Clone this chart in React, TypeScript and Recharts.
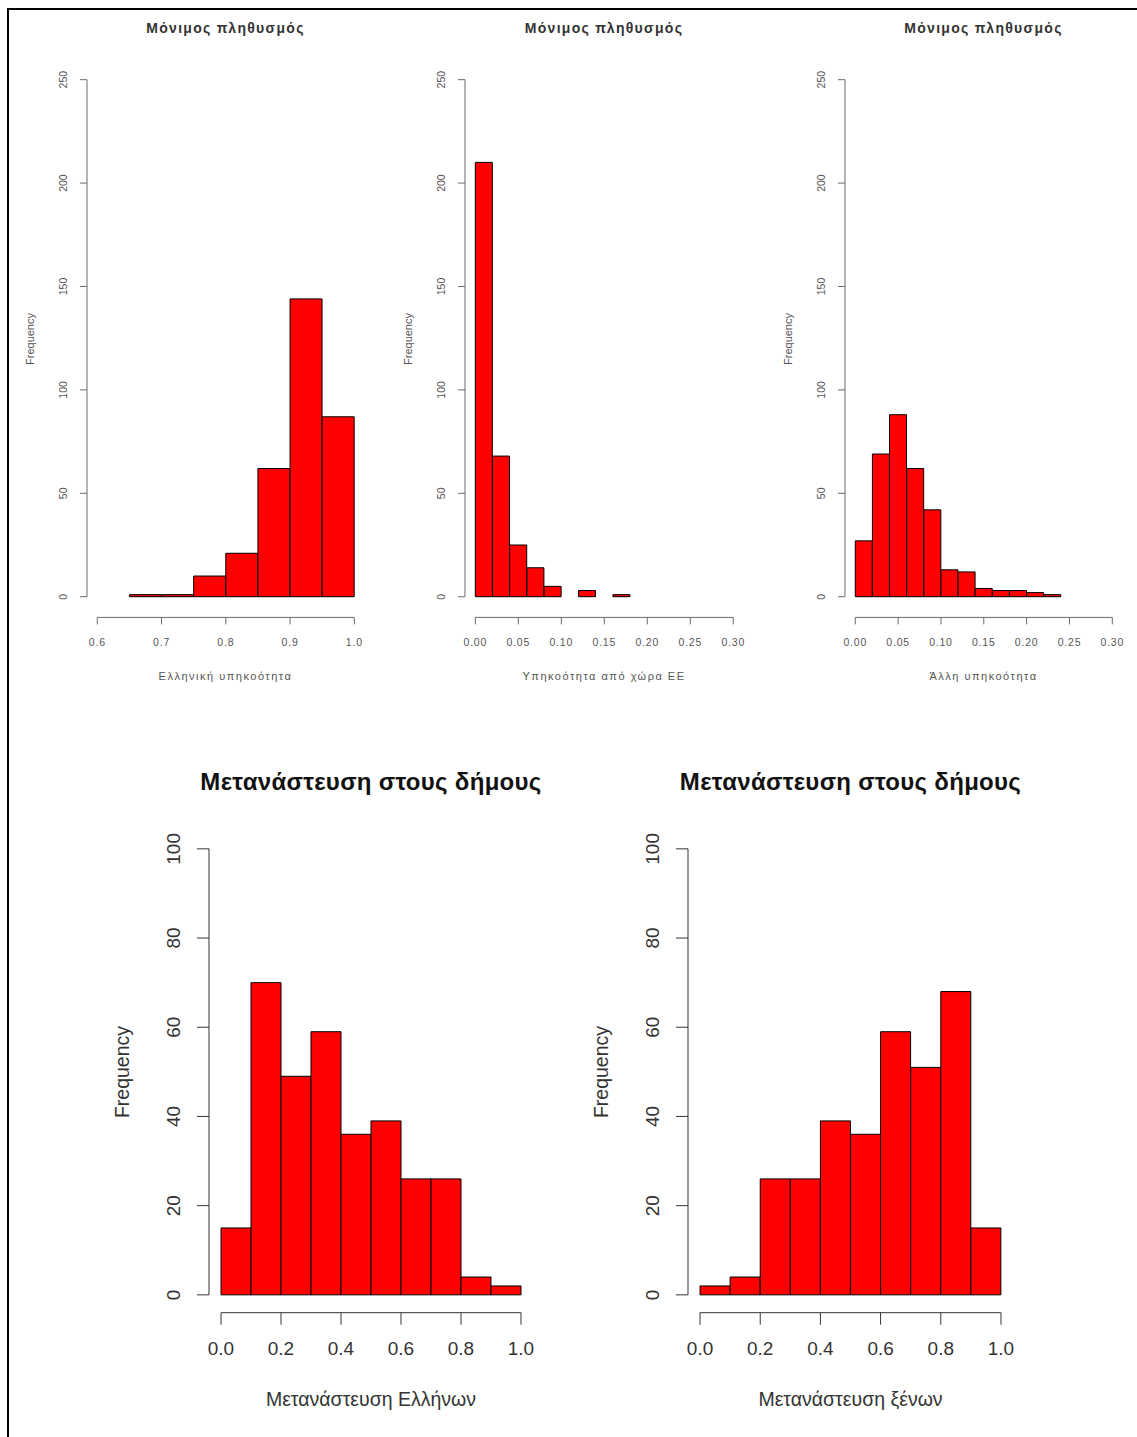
import { BarChart, Bar, XAxis, YAxis, ReferenceLine } from 'recharts';

const TOP_TITLE = "Μόνιμος πληθυσμός";
const BOTTOM_TITLE = "Μετανάστευση στους δήμους";

// Ελληνική υπηκοότητα
const greekTicks = [0.6, 0.7, 0.8, 0.9, 1.0];
const greekBinStart = 0.65;
const greekBinWidth = 0.05;
const greekCounts = [1, 1, 10, 21, 62, 144, 87];

// Υπηκοότητα από χώρα ΕΕ
const euTicks = [0, 0.05, 0.1, 0.15, 0.2, 0.25, 0.3];
const euBinStart = 0;
const euBinWidth = 0.02;
const euCounts = [210, 68, 25, 14, 5, 0, 3, 0, 1];

// Άλλη υπηκοότητα
const otherTicks = [0, 0.05, 0.1, 0.15, 0.2, 0.25, 0.3];
const otherBinStart = 0;
const otherBinWidth = 0.02;
const otherCounts = [27, 69, 88, 62, 42, 13, 12, 4, 3, 3, 2, 1];

const topYTicks = [0, 50, 100, 150, 200, 250];

// Μετανάστευση
const migTicks = [0, 0.2, 0.4, 0.6, 0.8, 1.0];
const migBinStart = 0;
const migBinWidth = 0.1;
const greekMigCounts = [15, 70, 49, 59, 36, 39, 26, 26, 4, 2];
const foreignMigCounts = [2, 4, 26, 26, 39, 36, 59, 51, 68, 15];

const bottomYTicks = [0, 20, 40, 60, 80, 100];

const FONT = '"Liberation Sans", Arial, Helvetica, sans-serif';
const RED = "#ff0000";

const buildBins = (ticks: number[], binStart: number, width: number, counts: number[]) => {
  const a = ticks[0];
  const b = ticks[ticks.length - 1];
  const n = Math.round((b - a) / width);
  const offset = Math.round((binStart - a) / width);
  return Array.from({ length: n }, (_, i) => ({
    bin: i,
    start: a + i * width,
    count: counts[i - offset] ?? null,
  }));
};

const STYLES = {
  top: {
    tickSize: 7, tickFont: 10.5, labelFont: 11, titleFont: 14, titleSpacing: 1.3,
    axisColor: "#6a6a6a", textColor: "#555", titleColor: "#333",
    xDy: 20, yDx: 11, xLabelDy: 58, yLabelDx: 57, titleDy: 31, yAxisW: 60, xAxisH: 50,
    labelSpacing: 1.5, tickSpacing: 0.8,
  },
  bottom: {
    tickSize: 12, tickFont: 19, labelFont: 19.5, titleFont: 24, titleSpacing: 0.3,
    axisColor: "#333", textColor: "#333", titleColor: "#111",
    xDy: 28, yDx: 15, xLabelDy: 87, yLabelDx: 86, titleDy: 49, yAxisW: 100, xAxisH: 70,
    labelSpacing: 0, tickSpacing: 0,
  },
};

type HistProps = {
  rows: { bin: number; start: number; count: number | null }[];
  xTicks: number[];
  decimals: number;
  yTicks: number[];
  left: number;
  top: number;
  plotW: number;
  plotH: number;
  kind: 'top' | 'bottom';
  title: string;
  xLabel: string;
};

const Histogram = ({ rows, xTicks, decimals, yTicks, left, top, plotW, plotH, kind, title, xLabel }: HistProps) => {
  const s = STYLES[kind];
  const xa = xTicks[0];
  const xb = xTicks[xTicks.length - 1];
  const xMin = xa - 0.04 * (xb - xa);
  const xMax = xb + 0.04 * (xb - xa);
  const ya = yTicks[0];
  const yb = yTicks[yTicks.length - 1];
  const yMin = ya - 0.04 * (yb - ya);
  const yMax = yb + 0.04 * (yb - ya);
  const pad = (plotW * 0.04) / 1.08;
  const mTop = 10;
  const mRight = 10;
  const width = s.yAxisW + plotW + mRight;
  const height = mTop + plotH + s.xAxisH;

  const XTick = (p: any) => (
    <text x={p.x} y={p.y + s.xDy} textAnchor="middle" fontSize={s.tickFont} fill={s.textColor}
      fontFamily={FONT} letterSpacing={s.tickSpacing}>
      {Number(p.payload.value).toFixed(decimals)}
    </text>
  );
  const YTick = (p: any) => {
    const tx = p.x - s.yDx;
    return (
      <text x={tx} y={p.y} transform={`rotate(-90 ${tx} ${p.y})`} textAnchor="middle"
        fontSize={s.tickFont} fill={s.textColor} fontFamily={FONT}>
        {p.payload.value}
      </text>
    );
  };

  const cx = left + plotW / 2;
  const textBase: React.CSSProperties = {
    position: 'absolute', whiteSpace: 'nowrap', fontFamily: FONT, lineHeight: 1,
  };

  return (
    <>
      <div style={{ ...textBase, left: cx, top: top - s.titleDy, transform: 'translate(-50%, -50%)',
        fontSize: s.titleFont, fontWeight: 'bold', color: s.titleColor, letterSpacing: s.titleSpacing }}>
        {title}
      </div>
      <div style={{ position: 'absolute', left: left - s.yAxisW, top: top - mTop }}>
        <BarChart width={width} height={height} data={rows} barCategoryGap={0} barGap={0}
          margin={{ top: mTop, right: mRight, bottom: 0, left: 0 }}>
          <XAxis xAxisId="cat" dataKey="bin" type="category" hide height={0} padding={{ left: pad, right: pad }} />
          <XAxis xAxisId="num" dataKey="start" type="number" domain={[xMin, xMax]} allowDataOverflow
            ticks={xTicks} interval={0} height={s.xAxisH} axisLine={false} stroke={s.axisColor}
            tickLine={{ stroke: s.axisColor }} tickSize={s.tickSize} tick={XTick} />
          <YAxis type="number" domain={[yMin, yMax]} allowDataOverflow ticks={yTicks} interval={0}
            width={s.yAxisW} axisLine={false} stroke={s.axisColor} tickLine={{ stroke: s.axisColor }}
            tickSize={s.tickSize} tick={YTick} />
          <Bar xAxisId="cat" dataKey="count" fill={RED} stroke="#000" strokeWidth={1} isAnimationActive={false} />
          <ReferenceLine xAxisId="num" ifOverflow="visible" stroke={s.axisColor} strokeWidth={1}
            segment={[{ x: xa, y: yMin }, { x: xb, y: yMin }]} />
          <ReferenceLine xAxisId="num" ifOverflow="visible" stroke={s.axisColor} strokeWidth={1}
            segment={[{ x: xMin, y: ya }, { x: xMin, y: yb }]} />
        </BarChart>
      </div>
      <div style={{ ...textBase, left: cx, top: top + plotH + s.xLabelDy, transform: 'translate(-50%, -50%)',
        fontSize: s.labelFont, color: s.textColor, letterSpacing: s.labelSpacing }}>
        {xLabel}
      </div>
      <div style={{ ...textBase, left: left - s.yLabelDx, top: top + plotH / 2,
        transform: 'translate(-50%, -50%) rotate(-90deg)', fontSize: s.labelFont, color: s.textColor }}>
        Frequency
      </div>
    </>
  );
};

export default function App() {
  return (
    <div style={{ position: 'absolute', left: 0, top: 0, width: 1137, height: 1437, background: '#fff', overflow: 'hidden' }}>
      <div style={{ position: 'absolute', left: 7, top: 8, width: 1130, height: 1429,
        borderTop: '2px solid #000', borderLeft: '2px solid #000' }} />
      <Histogram rows={buildBins(greekTicks, greekBinStart, greekBinWidth, greekCounts)} xTicks={greekTicks}
        decimals={1} yTicks={topYTicks} left={86.7} top={59.3} plotW={277.6} plotH={558.4} kind="top"
        title={TOP_TITLE} xLabel="Ελληνική υπηκοότητα" />
      <Histogram rows={buildBins(euTicks, euBinStart, euBinWidth, euCounts)} xTicks={euTicks}
        decimals={2} yTicks={topYTicks} left={464.7} top={59.3} plotW={278.6} plotH={558.4} kind="top"
        title={TOP_TITLE} xLabel="Υπηκοότητα από χώρα ΕΕ" />
      <Histogram rows={buildBins(otherTicks, otherBinStart, otherBinWidth, otherCounts)} xTicks={otherTicks}
        decimals={2} yTicks={topYTicks} left={844.7} top={59.3} plotW={277.6} plotH={558.4} kind="top"
        title={TOP_TITLE} xLabel="Άλλη υπηκοότητα" />
      <Histogram rows={buildBins(migTicks, migBinStart, migBinWidth, greekMigCounts)} xTicks={migTicks}
        decimals={1} yTicks={bottomYTicks} left={209} top={831.2} plotW={324} plotH={481.7} kind="bottom"
        title={BOTTOM_TITLE} xLabel="Μετανάστευση Ελλήνων" />
      <Histogram rows={buildBins(migTicks, migBinStart, migBinWidth, foreignMigCounts)} xTicks={migTicks}
        decimals={1} yTicks={bottomYTicks} left={688} top={831.2} plotW={325} plotH={481.7} kind="bottom"
        title={BOTTOM_TITLE} xLabel="Μετανάστευση ξένων" />
    </div>
  );
}
